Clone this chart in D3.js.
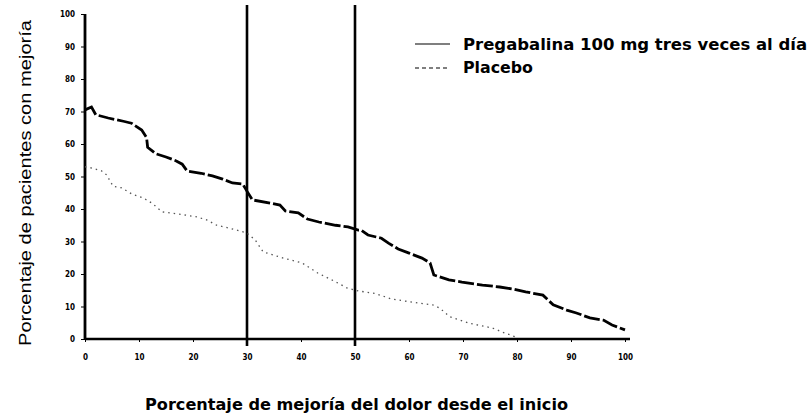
<!DOCTYPE html>
<html>
<head>
<meta charset="utf-8">
<script src="https://cdn.jsdelivr.net/npm/d3@7"></script>
<style>
  body { margin: 0; background: #fff; }
  svg { display: block; }
</style>
</head>
<body>
<svg width="812" height="418"></svg>
<script>
// tick values, both axes
var xTicks = [0, 10, 20, 30, 40, 50, 60, 70, 80, 90, 100];
var yTicks = [0, 10, 20, 30, 40, 50, 60, 70, 80, 90, 100];
// reference lines (30% and 50% improvement)
var refLines = [30, 50];

// Pregabalina 100 mg: % improvement vs % patients
var pregX = [0, 1.2, 2, 4.3, 7.1, 8.6, 10.5, 11.4, 11.6, 13.1, 15, 16.9, 18, 18.9, 21.5, 23.6, 25.5, 27.3, 29.2,
  30.1, 31, 34.3, 36.1, 37.1, 39.5, 41.2, 43.3, 46.4, 48.7, 50.6, 51.1, 52.4, 54.9, 56.2, 58, 59.9, 62.4,
  63.9, 64.6, 67.4, 69.8, 73.6, 76.8, 79.2, 81.6, 84.8, 86.7, 89.2, 91, 93.5, 96, 97.6, 100];
var pregY = [70.5, 71.4, 69, 68, 67, 66.4, 64.3, 62, 59, 57, 56, 54.8, 53.8, 51.7, 51, 50.2, 49.2, 48, 47.7,
  45.2, 42.8, 41.8, 41.2, 39.4, 38.8, 36.9, 36, 35, 34.5, 33.5, 33.5, 32, 31, 29.5, 27.7, 26.5, 24.9,
  23.4, 19.7, 18.2, 17.5, 16.6, 16, 15.4, 14.5, 13.5, 10.5, 8.9, 8, 6.5, 5.8, 4.3, 2.8];

// Placebo
var placX = [0, 1.3, 3.1, 4, 5.2, 6.8, 8.7, 10.8, 12.4, 14.3, 17, 20.7, 22.6, 24.4, 27, 30, 31.5, 33,
  36.7, 40.2, 41.7, 43.1, 45.7, 47.2, 48.5, 50.6, 53.7, 55.2, 56.8, 62, 64.4, 65.7, 67.6, 71.3, 75.4, 77.8, 80];
var placY = [53, 52.6, 51.7, 50.5, 47, 46.5, 44.6, 43.4, 41.8, 39.1, 38.5, 37.6, 36.6, 35, 34, 32.6, 30.5, 26.8,
  24.9, 23.4, 21.8, 20.3, 18.2, 16.9, 15.7, 14.8, 14, 13.2, 12.3, 11, 10.5, 9.5, 6.8, 4.8, 3.4, 1.8, 0.5];

var legendNames = ["Pregabalina 100 mg tres veces al día", "Placebo"];
/////////////////////////////////////
var svg = d3.select("svg"),
  margin = { top: 14, right: 187, bottom: 79, left: 85 },
  width = +svg.attr("width") - margin.left - margin.right,
  height = +svg.attr("height") - margin.top - margin.bottom,
  g = svg.append("g").attr("transform", "translate(" + margin.left + "," + margin.top + ")");

var x = d3.scaleLinear().domain([0, 100]).range([0, width]);
var y = d3.scaleLinear().domain([0, 100]).range([height, 0]);

var labelFont = "'DejaVu Sans Condensed', 'DejaVu Sans', sans-serif";

// x axis
var xAxis = g.append("g")
  .attr("transform", "translate(0," + height + ")")
  .call(d3.axisBottom(x).tickValues(xTicks).tickSize(3).tickPadding(12));
xAxis.select(".domain").attr("stroke-width", 2.6).attr("d", "M0,0H" + (width + 5));
xAxis.selectAll("text").attr("font-size", 8).attr("font-weight", "bold")
  .attr("font-family", labelFont).attr("fill", "#000");

// y axis
var yAxis = g.append("g")
  .call(d3.axisLeft(y).tickValues(yTicks).tickSize(4).tickPadding(6));
yAxis.select(".domain").attr("stroke-width", 2.8).attr("d", "M0," + (height + 1) + "V0");
yAxis.selectAll("text").attr("font-size", 8).attr("font-weight", "bold")
  .attr("font-family", labelFont).attr("fill", "#000");

// reference lines
g.selectAll(".ref")
  .data(refLines)
  .enter().append("line")
  .attr("class", "ref")
  .attr("x1", function (d) { return x(d); })
  .attr("x2", function (d) { return x(d); })
  .attr("y1", -9)
  .attr("y2", height + 7)
  .attr("stroke", "#000")
  .attr("stroke-width", 2.6);

var line = d3.line()
  .x(function (d) { return x(d[0]); })
  .y(function (d) { return y(d[1]); });

// placebo (dotted)
g.append("path")
  .datum(d3.zip(placX, placY))
  .attr("fill", "none")
  .attr("stroke", "#555")
  .attr("stroke-width", 1.3)
  .attr("stroke-dasharray", "1.5,4")
  .attr("d", line);

// pregabalina (solid, thick)
g.append("path")
  .datum(d3.zip(pregX, pregY))
  .attr("fill", "none")
  .attr("stroke", "#000")
  .attr("stroke-width", 2.8)
  .attr("stroke-dasharray", "16,3")
  .attr("d", line);

// legend
var legendLen = [344, 70];
var legend = svg.append("g");
legend.append("line")
  .attr("x1", 415).attr("x2", 450).attr("y1", 44).attr("y2", 44)
  .attr("stroke", "#000").attr("stroke-width", 1.2);
legend.append("line")
  .attr("x1", 415).attr("x2", 450).attr("y1", 68).attr("y2", 68)
  .attr("stroke", "#000").attr("stroke-width", 1.2).attr("stroke-dasharray", "4,3");
legend.selectAll("text")
  .data(legendNames)
  .enter().append("text")
  .attr("x", 463)
  .attr("y", function (d, i) { return 50 + i * 23; })
  .attr("font-family", labelFont)
  .attr("font-size", 16)
  .attr("font-weight", "bold")
  .attr("textLength", function (d, i) { return legendLen[i]; })
  .attr("lengthAdjust", "spacingAndGlyphs")
  .attr("fill", "#000")
  .text(function (d) { return d; });

// axis titles
svg.append("text")
  .attr("x", 145)
  .attr("y", 410)
  .attr("font-family", labelFont)
  .attr("font-size", 16)
  .attr("font-weight", "bold")
  .attr("textLength", 423)
  .attr("lengthAdjust", "spacingAndGlyphs")
  .attr("fill", "#000")
  .text("Porcentaje de mejoría del dolor desde el inicio");

svg.append("text")
  .attr("transform", "translate(31,183) rotate(-90)")
  .attr("text-anchor", "middle")
  .attr("font-family", "'Liberation Sans', Arial, sans-serif")
  .attr("font-size", 16)
  .attr("textLength", 326)
  .attr("lengthAdjust", "spacingAndGlyphs")
  .attr("fill", "#000")
  .text("Porcentaje de pacientes con mejoría");
</script>
</body>
</html>
